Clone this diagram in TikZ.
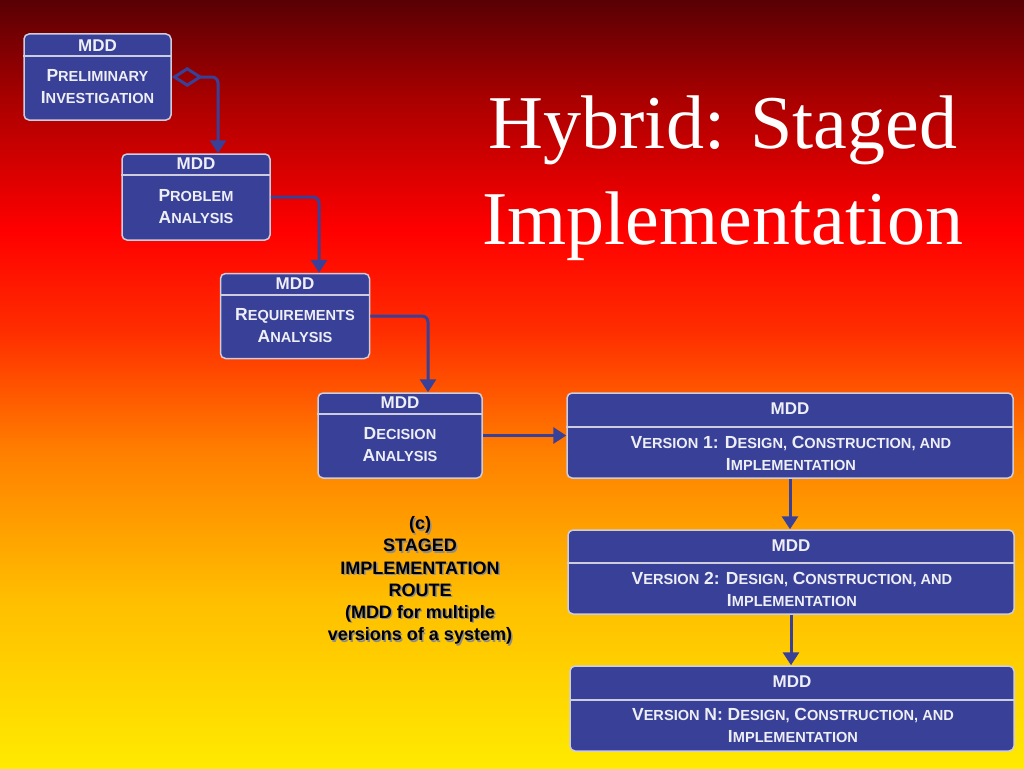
\documentclass[tikz,border=0pt]{standalone}
\usepackage{fontspec}
\setmainfont{Liberation Serif}
\newfontfamily\boxfont{Liberation Sans}
\usetikzlibrary{arrows.meta}

\definecolor{mddblue}{RGB}{56,64,152}
\definecolor{mddedge}{RGB}{205,205,222}
\definecolor{mddtext}{RGB}{238,238,246}
\definecolor{bgyellow}{RGB}{255,234,0}
\definecolor{bgamber}{RGB}{255,190,0}
\definecolor{bgorange}{RGB}{255,128,0}
\definecolor{bgscarlet}{RGB}{255,45,0}
\definecolor{bgred}{RGB}{255,0,0}
\definecolor{bgcrimson}{RGB}{170,0,0}
\definecolor{bgmaroon}{RGB}{88,0,4}

\pgfdeclareverticalshading{slidebg}{100bp}{color(0bp)=(bgyellow); color(25bp)=(bgyellow);
  color(36bp)=(bgamber); color(45.5bp)=(bgorange); color(53.5bp)=(bgscarlet);
  color(60bp)=(bgred); color(68.5bp)=(bgcrimson); color(75bp)=(bgmaroon);
  color(100bp)=(bgmaroon)}

\newcommand\smcap[2]{{\fontsize{17.5}{22}\selectfont #1}{\fontsize{14.6}{22}\selectfont #2}}

\begin{document}
\begin{tikzpicture}[
       x=1pt, y=-1pt,
       mddbox/.style={
         draw=mddedge,
         line width=1.5pt,
         fill=mddblue,
         rounded corners=5pt,
         inner sep=0pt
       },
       hdr/.style={
         text=mddtext,
         inner sep=0pt,
         font=\boxfont\bfseries\fontsize{17}{22}\selectfont
       },
       body/.style={hdr, align=center},
       divider/.style={draw=mddedge, line width=1.5pt},
       link/.style={
         draw=mddblue,
         line width=3pt,
         rounded corners=6pt,
         -{Triangle[length=13pt,width=16pt]}
       },
       caption/.style={
         align=center,
         inner sep=0pt,
         font=\boxfont\bfseries\fontsize{18}{22.2}\selectfont
       },
       title/.style={
         text=white,
         anchor=base,
         inner sep=0pt,
         font=\fontsize{76}{96}\selectfont
       }
     ]

       \useasboundingbox (0,0) rectangle (1024,768);
       \fill[shading=slidebg] (0,0) rectangle (1024,768);

       \node[title] (title1) at (723,148) {Hybrid: Staged};
       \node[title] (title2) at (723,244) {Implementation};

       \node (pi) at (97.5,77) [mddbox, minimum width=147pt, minimum height=86pt]{};
       \draw[divider] (pi.west |- 0,56) -- (pi.east |- 0,56);
       \node (pih) at (97.5,46) [hdr]{MDD};
       \node (pib) at (97.5,86.5) [body]{\smcap{P}{RELIMINARY}\\\smcap{I}{NVESTIGATION}};

       \node (pa) at (196,197) [mddbox, minimum width=148pt, minimum height=86pt]{};
       \draw[divider] (pa.west |- 0,175) -- (pa.east |- 0,175);
       \node (pah) at (196,163.5) [hdr]{MDD};
       \node (pab) at (196,207) [body]{\smcap{P}{ROBLEM}\\\smcap{A}{NALYSIS}};

       \node (ra) at (295,316) [mddbox, minimum width=149pt, minimum height=85pt]{};
       \draw[divider] (ra.west |- 0,295) -- (ra.east |- 0,295);
       \node (rah) at (295,284) [hdr]{MDD};
       \node (rab) at (295,326) [body]{\smcap{R}{EQUIREMENTS}\\\smcap{A}{NALYSIS}};

       \node (da) at (400,435.5) [mddbox, minimum width=164pt, minimum height=85pt]{};
       \draw[divider] (da.west |- 0,414) -- (da.east |- 0,414);
       \node (dah) at (400,403) [hdr]{MDD};
       \node (dab) at (400,445) [body]{\smcap{D}{ECISION}\\\smcap{A}{NALYSIS}};

       \node (v1) at (790,435.5) [mddbox, minimum width=446pt, minimum height=85pt]{};
       \draw[divider] (v1.west |- 0,427) -- (v1.east |- 0,427);
       \node (v1h) at (790,409) [hdr]{MDD};
       \node (v1b) at (791,453) [body]{\smcap{V}{ERSION} \smcap{1:}{} \smcap{D}{ESIGN,} \smcap{C}{ONSTRUCTION, AND}\\\smcap{I}{MPLEMENTATION}};

       \node (v2) at (791,572) [mddbox, minimum width=446pt, minimum height=84pt]{};
       \draw[divider] (v2.west |- 0,563) -- (v2.east |- 0,563);
       \node (v2h) at (791,546) [hdr]{MDD};
       \node (v2b) at (792,589) [body]{\smcap{V}{ERSION} \smcap{2:}{} \smcap{D}{ESIGN,} \smcap{C}{ONSTRUCTION, AND}\\\smcap{I}{MPLEMENTATION}};

       \node (vn) at (792,708.5) [mddbox, minimum width=444pt, minimum height=85pt]{};
       \draw[divider] (vn.west |- 0,700) -- (vn.east |- 0,700);
       \node (vnh) at (792,682) [hdr]{MDD};
       \node (vnb) at (793,725) [body]{\smcap{V}{ERSION} \smcap{N:}{} \smcap{D}{ESIGN,} \smcap{C}{ONSTRUCTION, AND}\\\smcap{I}{MPLEMENTATION}};

       \draw[link, {Diamond[open,length=31pt,width=20pt]}-{Triangle[length=13pt,width=16pt]}] (pi.east) -| ([xshift=22pt]pa.north);
       \draw[link] (pa.east) -| ([xshift=24pt]ra.north);
       \draw[link] (ra.east) -| ([xshift=28pt]da.north);
       \draw[link] (da.east) -- (v1.west);
       \draw[link] (v1.south) -- (v1.south |- v2.north);
       \draw[link] (v2.south) -- (v2.south |- vn.north);

       \node (capshade) at (421.5,582) [caption, text=black!45]{(c)\\STAGED\\IMPLEMENTATION\\ROUTE\\(MDD for multiple\\versions of a system)};
       \node (cap) at (420,580.5) [caption]{(c)\\STAGED\\IMPLEMENTATION\\ROUTE\\(MDD for multiple\\versions of a system)};

\end{tikzpicture}
\end{document}
